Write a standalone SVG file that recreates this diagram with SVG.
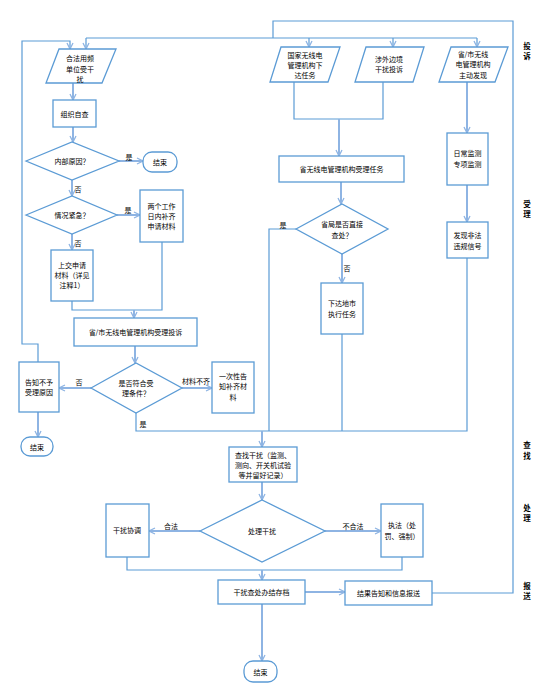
<svg xmlns="http://www.w3.org/2000/svg" width="543" height="696" viewBox="0 0 543 696">
<style>
.n{fill:#fff;stroke:#5B9BD5;stroke-width:1.3}
.t{font-family:"Noto Sans CJK SC","Liberation Sans",sans-serif;font-size:7px;fill:#000;text-anchor:middle;dominant-baseline:central}
.s{font-family:"Noto Sans CJK SC","Liberation Sans",sans-serif;font-size:7.5px;font-weight:bold;fill:#000;text-anchor:middle;dominant-baseline:central}
.l{fill:none;stroke:#5B9BD5;stroke-width:1.2}
.a{fill:none;stroke:#8EB4E3;stroke-width:2;marker-end:url(#ah)}
.al{fill:none;stroke:#5B9BD5;stroke-width:1.2;marker-end:url(#ah)}
</style>
<defs>
<marker id="ah" markerUnits="userSpaceOnUse" markerWidth="8" markerHeight="8" refX="7" refY="4" orient="auto">
<path d="M1,1 L7,4 L1,7" fill="none" stroke="#8EB4E3" stroke-width="1.3"/>
</marker>
</defs>
<rect width="543" height="696" fill="#fff"/>

<g id="connectors">
<path class="al" d="M38,362 V344 H22 V41 H70 V49"/>
<path class="l" d="M432,593 H513 V21 H273 V38"/>
<path class="l" d="M86,38 H477"/>
<path class="al" d="M86,38 V49"/>
<path class="al" d="M309,38 V47"/>
<path class="al" d="M393,38 V47"/>
<path class="al" d="M477,38 V47"/>
<path class="a" d="M73,83 V100"/>
<path class="a" d="M73,127 V142"/>
<path class="a" d="M119,161 H143"/>
<path class="a" d="M72,180 V196"/>
<path class="a" d="M117,215 H140"/>
<path class="a" d="M72,234 V250"/>
<path class="l" d="M72,301 V310 H162 V242"/>
<path class="a" d="M134,310 V318"/>
<path class="a" d="M135,346 V363"/>
<path class="a" d="M91,388 H59"/>
<path class="a" d="M182,388 H212"/>
<path class="a" d="M38,412 V437"/>
<path class="l" d="M136,413 V431 H467 V258"/>
<path class="l" d="M296,229 H269 V431"/>
<path class="l" d="M342,334 V431"/>
<path class="a" d="M262,431 V447"/>
<path class="l" d="M294,82 V119 H383 V82"/>
<path class="a" d="M339,119 V156"/>
<path class="a" d="M467,82 V133"/>
<path class="a" d="M341,182 V204"/>
<path class="a" d="M342,254 V283"/>
<path class="a" d="M467,185 V222"/>
<path class="a" d="M262,482 V500"/>
<path class="a" d="M200,531 H149"/>
<path class="a" d="M325,531 H381"/>
<path class="l" d="M127,557 V570 H402 V557"/>
<path class="a" d="M262,570 V580"/>
<path class="a" d="M305,592 H345"/>
<path class="a" d="M262,604 V661"/>
<text class="t" x="129" y="157">是</text>
<text class="t" x="78" y="189">否</text>
<text class="t" x="128" y="210">是</text>
<text class="t" x="78" y="243">否</text>
<text class="t" x="79" y="382">否</text>
<text class="t" x="196" y="381">材料不齐</text>
<text class="t" x="143" y="424">是</text>
<text class="t" x="283" y="225">是</text>
<text class="t" x="347" y="268">否</text>
<text class="t" x="171" y="526">合法</text>
<text class="t" x="353" y="526">不合法</text>
</g>

<g id="p1"><polygon class="n" points="59,49 116,49 102,83 46,83"/>
<text class="t" x="80" y="58">合法用频</text><text class="t" x="80" y="69">单位受干</text><text class="t" x="80" y="79">扰</text></g>
<g id="zzzc"><rect class="n" x="53" y="100" width="43" height="27"/><text class="t" x="74.5" y="113.5">组织自查</text></g>
<g id="d1"><polygon class="n" points="26,161 72,142 119,161 72,180"/><text class="t" x="72" y="161">内部原因？</text></g>
<g id="end1"><rect class="n" x="143" y="152" width="34" height="20" rx="9"/><text class="t" x="160" y="162">结束</text></g>
<g id="d2"><polygon class="n" points="26,215 72,196 117,215 72,234"/><text class="t" x="72" y="215">情况紧急？</text></g>
<g id="lgz"><rect class="n" x="140" y="190" width="43" height="52"/>
<text class="t" x="161.5" y="206">两个工作</text><text class="t" x="161.5" y="216">日内补齐</text><text class="t" x="161.5" y="226">申请材料</text></g>
<g id="sj"><rect class="n" x="51" y="250" width="42" height="51"/>
<text class="t" x="72" y="265">上交申请</text><text class="t" x="72" y="275">材料（详见</text><text class="t" x="72" y="285">注释1）</text></g>
<g id="ssl"><rect class="n" x="74" y="318" width="123" height="28"/><text class="t" x="135.5" y="332">省/市无线电管理机构受理投诉</text></g>
<g id="d3"><polygon class="n" points="91,388 136,363 182,388 136,413"/>
<text class="t" x="136" y="383">是否符合受</text><text class="t" x="136" y="393">理条件？</text></g>
<g id="gz"><rect class="n" x="19" y="362" width="40" height="50"/>
<text class="t" x="39" y="382">告知不予</text><text class="t" x="39" y="392">受理原因</text></g>
<g id="end2"><rect class="n" x="21" y="437" width="32" height="19" rx="9"/><text class="t" x="37" y="446.5">结束</text></g>
<g id="ycx"><rect class="n" x="212" y="362" width="42" height="51"/>
<text class="t" x="233" y="376">一次性告</text><text class="t" x="233" y="386">知补齐材</text><text class="t" x="233" y="397">料</text></g>
<g id="p2"><polygon class="n" points="281,47 340,47 328,82 270,82"/>
<text class="t" x="305" y="55">国家无线电</text><text class="t" x="305" y="65">管理机构下</text><text class="t" x="305" y="75">达任务</text></g>
<g id="p3"><polygon class="n" points="366,47 424,47 413,82 355,82"/>
<text class="t" x="389" y="59">涉外边境</text><text class="t" x="389" y="69">干扰投诉</text></g>
<g id="p4"><polygon class="n" points="451,47 508,47 495,82 439,82"/>
<text class="t" x="473" y="54">省/市无线</text><text class="t" x="473" y="64">电管理机构</text><text class="t" x="473" y="75">主动发现</text></g>
<g id="sw"><rect class="n" x="279" y="156" width="125" height="26"/><text class="t" x="341.5" y="169">省无线电管理机构受理任务</text></g>
<g id="d4"><polygon class="n" points="296,229 342,204 388,229 342,254"/>
<text class="t" x="342" y="224">省局是否直接</text><text class="t" x="342" y="235">查处？</text></g>
<g id="xd"><rect class="n" x="321" y="283" width="42" height="51"/>
<text class="t" x="342" y="303">下达地市</text><text class="t" x="342" y="314">执行任务</text></g>
<g id="rc"><rect class="n" x="447" y="133" width="41" height="52"/>
<text class="t" x="467.5" y="153">日常监测</text><text class="t" x="467.5" y="164">专项监测</text></g>
<g id="fx"><rect class="n" x="447" y="222" width="41" height="36"/>
<text class="t" x="467.5" y="235">发现非法</text><text class="t" x="467.5" y="246">违规信号</text></g>
<g id="cz"><rect class="n" x="229" y="447" width="68" height="35"/>
<text class="t" x="263" y="455">查找干扰（监测、</text><text class="t" x="263" y="465">测向、开关机试验</text><text class="t" x="263" y="475">等并留好记录）</text></g>
<g id="d5"><polygon class="n" points="200,531 262,500 325,531 262,562"/><text class="t" x="262" y="531">处理干扰</text></g>
<g id="xt"><rect class="n" x="106" y="504" width="43" height="53"/><text class="t" x="127" y="530">干扰协调</text></g>
<g id="zf"><rect class="n" x="381" y="504" width="42" height="53"/>
<text class="t" x="402" y="525">执法（处</text><text class="t" x="402" y="536">罚、强制）</text></g>
<g id="cd"><rect class="n" x="218" y="580" width="87" height="24"/><text class="t" x="261.5" y="592">干扰查处办结存档</text></g>
<g id="jg"><rect class="n" x="345" y="581" width="87" height="24"/><text class="t" x="388.5" y="593">结果告知和信息报送</text></g>
<g id="end3"><rect class="n" x="244" y="661" width="33" height="21" rx="9"/><text class="t" x="260.5" y="671.5">结束</text></g>

<g id="stages">
<text class="s" x="527" y="45">投</text><text class="s" x="527" y="55">诉</text>
<text class="s" x="527" y="203">受</text><text class="s" x="527" y="213">理</text>
<text class="s" x="527" y="444">查</text><text class="s" x="527" y="455">找</text>
<text class="s" x="527" y="507">处</text><text class="s" x="527" y="517">理</text>
<text class="s" x="527" y="585">报</text><text class="s" x="527" y="595">送</text>
</g>
</svg>
